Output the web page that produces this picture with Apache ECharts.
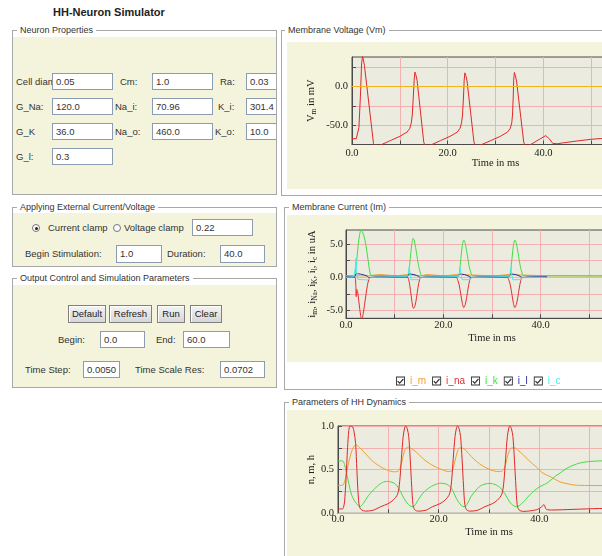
<!DOCTYPE html>
<html><head><meta charset="utf-8">
<script src="https://cdn.jsdelivr.net/npm/echarts@6/dist/echarts.min.js"></script>
<style>
html,body{margin:0;padding:0;width:602px;height:556px;overflow:hidden;background:#fff;font-family:"Liberation Sans",Arial,sans-serif;}
.frame{position:absolute;border:1px solid #a8a8a8;box-sizing:border-box;}
.beige{position:absolute;background:#f4f3dc;}
.ttl{position:absolute;font-size:9px;color:#333;background:#fff;padding:0 3px;line-height:11px;white-space:nowrap;}
.lbl{position:absolute;font-size:9.5px;color:#333;line-height:12px;white-space:nowrap;}
.inp{position:absolute;background:#fff;border:1px solid #8b9cb2;box-sizing:border-box;font-size:9.5px;color:#333;padding-left:3px;white-space:nowrap;overflow:hidden;}
.btn{position:absolute;background:linear-gradient(#f4f4f4,#d6d6d6);border:1px solid #808080;box-sizing:border-box;font-size:9.5px;color:#222;text-align:center;line-height:16px;box-shadow:inset 1px 1px #fff;}
.radio{position:absolute;width:8px;height:8px;border:1px solid #777;border-radius:50%;box-sizing:border-box;background:#fafafa;}
.dot{position:absolute;left:2px;top:2px;width:3px;height:3px;border-radius:50%;background:#222;}
#title{position:absolute;left:0;top:8px;width:218px;height:10px;overflow:hidden;}
#title span{position:absolute;left:53px;top:-3.5px;font-size:11px;font-weight:bold;color:#222;white-space:nowrap;line-height:14px;}
#chart{position:absolute;left:0;top:0;width:660px;height:556px;z-index:5;pointer-events:none;}
</style></head>
<body>
<div id="title"><span>HH-Neuron Simulator</span></div>

<!-- Neuron Properties -->
<div class="frame" style="left:12px;top:30px;width:265px;height:165px;"></div>
<div class="beige" style="left:13px;top:37px;width:263px;height:157px;"></div>
<div class="ttl" style="left:17px;top:24.5px;">Neuron Properties</div>
<div class="lbl" style="left:16px;top:75.5px;">Cell diameter:</div>
<div class="inp" style="left:52px;top:73px;width:61px;height:17px;line-height:15px;">0.05</div>
<div class="lbl" style="left:120px;top:75.5px;">Cm:</div>
<div class="inp" style="left:152px;top:73px;width:61px;height:17px;line-height:15px;">1.0</div>
<div class="lbl" style="left:220px;top:75.5px;">Ra:</div>
<div class="inp" style="left:246px;top:73px;width:30px;height:17px;line-height:15px;border-right:none;">0.03</div>

<div class="lbl" style="left:16px;top:100.5px;">G_Na:</div>
<div class="inp" style="left:52px;top:98px;width:61px;height:17px;line-height:15px;">120.0</div>
<div class="lbl" style="left:115px;top:100.5px;">Na_i:</div>
<div class="inp" style="left:152px;top:98px;width:61px;height:17px;line-height:15px;">70.96</div>
<div class="lbl" style="left:218px;top:100.5px;">K_i:</div>
<div class="inp" style="left:246px;top:98px;width:30px;height:17px;line-height:15px;border-right:none;">301.4</div>

<div class="lbl" style="left:16px;top:125.5px;">G_K</div>
<div class="inp" style="left:52px;top:123px;width:61px;height:17px;line-height:15px;">36.0</div>
<div class="lbl" style="left:115px;top:125.5px;">Na_o:</div>
<div class="inp" style="left:152px;top:123px;width:61px;height:17px;line-height:15px;">460.0</div>
<div class="lbl" style="left:215px;top:125.5px;">K_o:</div>
<div class="inp" style="left:246px;top:123px;width:30px;height:17px;line-height:15px;border-right:none;">10.0</div>

<div class="lbl" style="left:16px;top:150.5px;">G_l:</div>
<div class="inp" style="left:52px;top:148px;width:61px;height:17px;line-height:15px;">0.3</div>

<!-- Applying External Current/Voltage -->
<div class="frame" style="left:12px;top:207px;width:265px;height:60px;"></div>
<div class="beige" style="left:13px;top:213px;width:263px;height:53px;"></div>
<div class="ttl" style="left:17px;top:201.5px;">Applying External Current/Voltage</div>
<div class="radio" style="left:32px;top:224px;"><div class="dot"></div></div>
<div class="lbl" style="left:48px;top:222px;">Current clamp</div>
<div class="radio" style="left:113px;top:224px;"></div>
<div class="lbl" style="left:124px;top:222px;">Voltage clamp</div>
<div class="inp" style="left:192px;top:219px;width:61px;height:17px;line-height:15px;">0.22</div>
<div class="lbl" style="left:25px;top:248px;">Begin Stimulation:</div>
<div class="inp" style="left:116px;top:245px;width:46px;height:18px;line-height:16px;">1.0</div>
<div class="lbl" style="left:167px;top:248px;">Duration:</div>
<div class="inp" style="left:220px;top:245px;width:45px;height:18px;line-height:16px;">40.0</div>

<!-- Output Control -->
<div class="frame" style="left:12px;top:278px;width:265px;height:110px;"></div>
<div class="beige" style="left:13px;top:285px;width:263px;height:102px;"></div>
<div class="ttl" style="left:17px;top:272.5px;">Output Control and Simulation Parameters</div>
<div class="btn" style="left:68px;top:305px;width:38px;height:18px;">Default</div>
<div class="btn" style="left:109px;top:305px;width:43px;height:18px;">Refresh</div>
<div class="btn" style="left:157px;top:305px;width:28px;height:18px;">Run</div>
<div class="btn" style="left:190px;top:305px;width:32px;height:18px;">Clear</div>
<div class="lbl" style="left:58px;top:334px;">Begin:</div>
<div class="inp" style="left:100px;top:331px;width:45px;height:17px;line-height:15px;">0.0</div>
<div class="lbl" style="left:156px;top:334px;">End:</div>
<div class="inp" style="left:183px;top:331px;width:47px;height:17px;line-height:15px;">60.0</div>
<div class="lbl" style="left:25px;top:364px;">Time Step:</div>
<div class="inp" style="left:83px;top:361px;width:37px;height:17px;line-height:15px;">0.0050</div>
<div class="lbl" style="left:135px;top:364px;">Time Scale Res:</div>
<div class="inp" style="left:220px;top:361px;width:45px;height:17px;line-height:15px;">0.0702</div>

<!-- Right panels -->
<div class="frame" style="left:281px;top:30px;width:400px;height:166px;"></div>
<div class="beige" style="left:287px;top:42px;width:320px;height:147px;"></div>
<div class="ttl" style="left:285px;top:24.5px;">Membrane Voltage (Vm)</div>

<div class="frame" style="left:284px;top:207px;width:400px;height:183px;"></div>
<div class="beige" style="left:287px;top:215px;width:320px;height:147px;"></div>
<div class="ttl" style="left:289px;top:201.5px;">Membrane Current (Im)</div>

<div class="frame" style="left:284px;top:402px;width:400px;height:200px;"></div>
<div class="beige" style="left:287px;top:410px;width:320px;height:160px;"></div>
<div class="ttl" style="left:289px;top:396.5px;">Parameters of HH Dynamics</div>

<div id="chart"></div>
<script>
// ---------- Membrane voltage (mV) ----------
const vmTime = [0,0.9,1.1,1.45,1.75,2.0,2.2,2.4,2.6,4.5,4.8,5.5,8.0,10.0,11.5,12.1,12.4,12.6,12.8,13.0,13.15,13.35,13.6,15.0,15.3,16.0,18.5,20.5,22.0,22.6,22.9,23.1,23.3,23.45,23.6,23.8,24.05,25.5,25.8,26.4,29.0,31.0,32.5,33.1,33.4,33.55,33.7,33.8,33.95,34.15,34.4,35.9,36.2,36.8,39.0,40.5,40.8,41.3,42.0,43.0,44.0,47.0,50.0,52.0,56.0,60.0];
const vmValue = [-67.5,-67.5,-65.5,-53,-14,29,39,34,27,-74,-77,-77,-70,-64.5,-59,-54,-47,-37,-15,8,18.5,15,8,-72,-77,-77,-70,-64.5,-59,-54,-47,-37,-15,8,17.5,14,7,-72,-77,-77,-70,-64.5,-59,-54,-47,-37,-15,8,18,14,7,-72,-77,-77,-69,-63.5,-62,-68,-73.7,-74,-73,-70.5,-68.3,-67.3,-66.8,-66.5];

// ---------- Membrane currents (uA) ----------
const imTime = [0,4.6,4.7,7.0,7.1,10.5,10.6,12.6,12.7,15.5,15.6,16.5,16.6,20.3,20.4,22.8,22.9,30.8,30.9,33.3,33.4,41.3,60];
const imValue = [0.22,0.22,0.42,0.42,0.22,0.22,0.42,0.42,0.22,0.22,0.42,0.42,0.22,0.22,0.42,0.42,0.22,0.22,0.42,0.42,0.22,0.22,0.2];
const inaTime = [0,1.0,1.8,2.0,2.1,2.2,2.4,2.7,3.0,3.25,3.5,3.8,4.1,4.4,4.7,5.0,12.6,12.9,13.1,13.4,13.7,13.9,14.2,14.5,14.8,15.1,15.4,22.6,23.0,23.3,23.6,23.9,24.2,24.5,24.8,25.1,25.4,25.7,33.1,33.5,33.8,34.1,34.4,34.7,35.0,35.3,35.6,35.9,36.2,41.3];
const inaValue = [0,0,0,-1.0,-2.9,-1.8,-2.2,-4.0,-5.7,-6.3,-5.6,-4.2,-2.6,-1.2,-0.3,0,0,-0.4,-1.2,-2.8,-4.4,-4.65,-4.2,-3.0,-1.5,-0.4,0,0,-0.5,-1.3,-2.6,-3.9,-4.55,-4.1,-3.0,-1.6,-0.5,0,0,-0.5,-1.3,-2.6,-3.9,-4.55,-4.1,-3.0,-1.6,-0.5,0,0];
const ikTime = [0,1.7,1.9,2.2,2.5,2.8,3.1,3.4,3.9,4.3,4.6,4.9,5.2,12.7,12.9,13.2,13.5,13.8,14.1,14.5,14.9,15.3,15.6,23.1,23.3,23.6,23.9,24.2,24.5,24.9,25.3,25.7,26.0,33.6,33.8,34.1,34.4,34.7,35.0,35.4,35.8,36.2,36.5,60];
const ikValue = [0.25,0.25,0.6,2.5,4.8,6.4,7.1,6.8,5.6,3.8,2.3,0.8,0.3,0.25,0.7,2.8,4.9,5.85,5.3,3.6,1.8,0.6,0.25,0.25,0.7,2.8,4.8,5.6,5.1,3.5,1.7,0.6,0.25,0.25,0.7,2.8,4.8,5.6,5.1,3.5,1.7,0.6,0.25,0.22];
const ilTime = [0,1.8,2.1,3.2,4.3,4.8,6.0,12.6,12.9,14.0,14.9,15.4,16.5,23.0,23.3,24.4,25.3,25.8,27.0,33.5,33.8,34.9,35.8,36.3,37.5,41.3];
const ilValue = [0.1,0.1,0.55,0.45,0.2,-0.05,0.05,0.1,0.5,0.4,0.15,-0.05,0.05,0.1,0.5,0.4,0.15,-0.05,0.05,0.1,0.5,0.4,0.15,-0.05,0.05,0.1];
const icTime = [0,1.6,1.9,2.05,2.2,2.4,2.6,4.5,4.8,5.0,12.5,12.8,13.0,13.15,13.35,15.0,15.3,23.0,23.3,23.5,23.65,23.85,25.5,25.8,33.4,33.7,33.9,34.05,34.25,35.9,36.2,41.2];
const icValue = [0,0.1,1.3,2.9,1.0,-0.3,-0.4,-0.4,-0.2,0,0.1,0.6,1.6,0.6,-0.35,-0.35,0,0.1,0.5,1.4,0.5,-0.35,-0.35,0,0.1,0.5,1.4,0.5,-0.35,-0.35,0,0];

// ---------- HH gating variables ----------
const nTime = [0,0.9,1.1,1.5,2.0,2.5,3.0,3.6,4.2,5.0,6.0,7.0,8.0,9.0,10.0,11.0,11.9,12.4,12.8,13.2,13.6,14.0,14.6,15.6,16.8,18.2,19.6,20.9,22.0,22.6,23.0,23.4,23.8,24.2,24.6,25.4,26.5,27.5,28.8,30.0,31.2,32.3,32.9,33.3,33.7,34.1,34.6,35.1,35.8,36.8,38.0,39.4,40.5,41.4,42.5,44.1,45.5,46.7,48,52,60];
const nValue = [0.32,0.32,0.33,0.4,0.55,0.67,0.75,0.785,0.76,0.71,0.65,0.59,0.55,0.515,0.49,0.476,0.48,0.53,0.62,0.71,0.75,0.76,0.74,0.7,0.63,0.57,0.525,0.495,0.478,0.485,0.54,0.64,0.72,0.75,0.75,0.72,0.65,0.595,0.54,0.505,0.482,0.478,0.5,0.56,0.66,0.72,0.75,0.75,0.72,0.67,0.6,0.53,0.47,0.44,0.41,0.36,0.34,0.325,0.32,0.318,0.318];
const mTime = [0,0.9,1.1,1.3,1.6,1.9,2.15,2.4,2.9,3.2,3.5,3.75,4.0,4.25,4.65,5.5,7.0,8.45,9.95,10.95,11.85,12.25,12.6,12.95,13.25,13.45,13.75,14.05,14.35,14.65,14.9,15.25,15.95,17.45,18.75,20.25,21.25,22.15,22.55,22.9,23.25,23.55,23.75,24.05,24.35,24.65,24.95,25.2,25.55,26.25,27.75,29.15,30.65,31.65,32.55,32.95,33.3,33.65,33.95,34.15,34.45,34.75,35.05,35.35,35.6,35.95,36.8,39.4,40.4,40.9,41.4,42.5,46.7,52,60];
const mValue = [0.05,0.05,0.07,0.13,0.4,0.75,0.95,1.0,0.99,0.93,0.8,0.5,0.22,0.08,0.04,0.025,0.035,0.075,0.11,0.15,0.22,0.36,0.63,0.88,0.98,1.0,0.97,0.88,0.62,0.3,0.1,0.04,0.025,0.035,0.075,0.11,0.15,0.22,0.36,0.63,0.88,0.98,1.0,0.97,0.88,0.62,0.3,0.1,0.04,0.025,0.035,0.075,0.11,0.15,0.22,0.36,0.63,0.88,0.98,1.0,0.97,0.88,0.62,0.3,0.1,0.04,0.022,0.04,0.07,0.1,0.045,0.038,0.045,0.055,0.058];
const hTime = [0,0.9,1.3,2.0,2.65,3.2,3.65,4.3,5.0,6.0,7.6,8.6,9.6,10.5,11.3,11.9,12.4,13.3,14.25,14.9,15.9,16.7,17.6,18.6,19.6,20.6,21.5,22.3,22.8,23.6,24.5,25.1,25.6,26.4,27.2,28.2,29.2,30.2,31.2,32.1,33.1,34.1,34.8,35.5,36.5,37.3,38.1,39.0,40.1,41.0,41.5,42.5,43.3,44.1,45.3,46.7,48.0,49.4,52,60];
const hValue = [0.6,0.6,0.56,0.38,0.22,0.15,0.115,0.076,0.11,0.2,0.3,0.345,0.365,0.36,0.34,0.3,0.25,0.152,0.087,0.075,0.15,0.22,0.27,0.31,0.335,0.345,0.335,0.305,0.26,0.16,0.09,0.075,0.1,0.19,0.25,0.31,0.335,0.343,0.33,0.3,0.23,0.13,0.09,0.076,0.11,0.16,0.21,0.26,0.305,0.33,0.345,0.39,0.43,0.46,0.51,0.55,0.575,0.59,0.6,0.605];

// ---------- axis ticks / labels ----------
const timeLabels = [0, 20, 40];
const vmTicks = [-75, -50, -25, 0, 25];
const vmLabels = [-50, 0];
const imTicks = [-5, -2.5, 0, 2.5, 5];
const imLabels = [-5, 0, 5];
const gateTicks = [0, 0.25, 0.5, 0.75, 1];
const gateLabels = [0, 0.5, 1];

const currentNames = ['i_m', 'i_na', 'i_k', 'i_l', 'i_c'];
const currentColors = ['#f0a030', '#e23030', '#44dd44', '#2a2a9a', '#44eeee'];

function pairs(t, v) { return t.map((x, i) => [x, v[i]]); }

const SERIF = '"Liberation Serif","Times New Roman",serif';
const GRID_LINE = '#f3b0b0';
const AXIS_COL = '#4a4a4a';

function xAxis(gi, labelMargin, nameGap) {
  return {
    type: 'value', gridIndex: gi, min: 0, max: 60, interval: 10,
    axisLine: { show: true, onZero: false, lineStyle: { color: AXIS_COL } },
    axisTick: { show: true, inside: true, length: 4, lineStyle: { color: AXIS_COL } },
    axisLabel: { customValues: timeLabels, formatter: v => v.toFixed(1), margin: labelMargin,
      fontFamily: SERIF, fontSize: 10.5, color: '#222' },
    splitLine: { show: true, lineStyle: { color: GRID_LINE, width: 1 } },
    name: 'Time in ms', nameLocation: 'middle', nameGap: nameGap, nameMoveOverlap: false,
    nameTextStyle: { fontFamily: SERIF, fontSize: 10.5, color: '#222' }
  };
}
const richName = {
  a: { fontFamily: SERIF, fontSize: 10.5, color: '#222', lineHeight: 14 },
  s: { fontFamily: SERIF, fontSize: 7.5, color: '#222', lineHeight: 8, verticalAlign: 'bottom' }
};
function yAxis(gi, min, max, ticks, labels, name, nameGap, labelMargin) {
  return {
    type: 'value', gridIndex: gi, min: min, max: max,
    axisLine: { show: true, onZero: false, lineStyle: { color: AXIS_COL } },
    axisTick: { show: true, inside: true, length: 4, customValues: ticks, lineStyle: { color: AXIS_COL } },
    axisLabel: { customValues: labels, formatter: v => v.toFixed(1), margin: labelMargin,
      fontFamily: SERIF, fontSize: 10.5, color: '#222' },
    splitLine: { show: true, lineStyle: { color: GRID_LINE, width: 1 } },
    name: name, nameLocation: 'middle', nameGap: nameGap, nameRotate: 90, nameMoveOverlap: false,
    nameTextStyle: { fontFamily: SERIF, fontSize: 10.5, color: '#222', rich: richName }
  };
}
function line(name, xi, t, v, color, smooth, extra) {
  return Object.assign({
    name: name, type: 'line', xAxisIndex: xi, yAxisIndex: xi, data: pairs(t, v),
    symbol: 'none', showSymbol: false, smooth: smooth, clip: true,
    lineStyle: { color: color, width: 1 }, itemStyle: { color: color },
    emphasis: { disabled: true }, silent: true
  }, extra || {});
}
const zeroLine = color => ({ markLine: { silent: true, symbol: 'none', label: { show: false },
  lineStyle: { color: color, type: 'solid', width: 1 }, data: [{ yAxis: 0 }] } });

const checkIcon = 'path://M0,0L10,0L10,10L0,10Z M1,1L1,9L9,9L9,1Z M2.3,4.6L4.1,6.3L7.7,2.3L8.7,3.3L4.1,8.3L1.3,5.6Z';

const option = {
  animation: false,
  backgroundColor: 'transparent',
  grid: [
    { left: 352, top: 57, width: 287, height: 87.5, show: true, backgroundColor: '#ebebdf', borderColor: AXIS_COL, borderWidth: 1 },
    { left: 346, top: 230, width: 292, height: 88.3, show: true, backgroundColor: '#ebebdf', borderColor: AXIS_COL, borderWidth: 1 },
    { left: 338, top: 426, width: 302, height: 87.3, show: true, backgroundColor: '#ebebdf', borderColor: AXIS_COL, borderWidth: 1 }
  ],
  xAxis: [ xAxis(0, 3, 13.5), xAxis(1, 1, 14), xAxis(2, 0, 13.5) ],
  yAxis: [
    yAxis(0, -75, 38, vmTicks, vmLabels, '{a|V}{s|m}{a| in mV}', 34, 4),
    yAxis(1, -6.15, 7.1, imTicks, imLabels, '{a|i}{s|m}{a|, i}{s|Na}{a|, i}{s|K}{a|, i}{s|l}{a|, i}{s|c}{a| in uA}', 27, 3),
    yAxis(2, 0, 1, gateTicks, gateLabels, '{a|n, m, h}', 20, 4)
  ],
  legend: {
    left: 391, top: 371, itemWidth: 9, itemHeight: 9, itemGap: 6, icon: checkIcon,
    selectedMode: false,
    itemStyle: { color: '#333', borderWidth: 0 },
    textStyle: { fontFamily: '"Liberation Sans",Arial,sans-serif', fontSize: 10 },
    data: currentNames.map((n, i) => ({ name: n, textStyle: { color: currentColors[i] } }))
  },
  series: [
    line('Vm', 0, vmTime, vmValue, '#e02828', false, zeroLine('#f2b51c')),
    line('i_m', 1, imTime, imValue, currentColors[0], false),
    line('i_na', 1, inaTime, inaValue, currentColors[1], 0.3),
    line('i_k', 1, ikTime, ikValue, currentColors[2], 0.3),
    line('i_l', 1, ilTime, ilValue, currentColors[3], 0.3),
    line('i_c', 1, icTime, icValue, currentColors[4], false),
    line('n', 2, nTime, nValue, '#f0a030', 0.3, zeroLine('#f2c21c')),
    line('h', 2, hTime, hValue, '#44dd44', 0.3),
    line('m', 2, mTime, mValue, '#e02828', 0.3)
  ]
};
const chart = echarts.init(document.getElementById('chart'), null, { renderer: 'canvas', width: 660, height: 556 });
chart.setOption(option);
</script>
</body></html>
